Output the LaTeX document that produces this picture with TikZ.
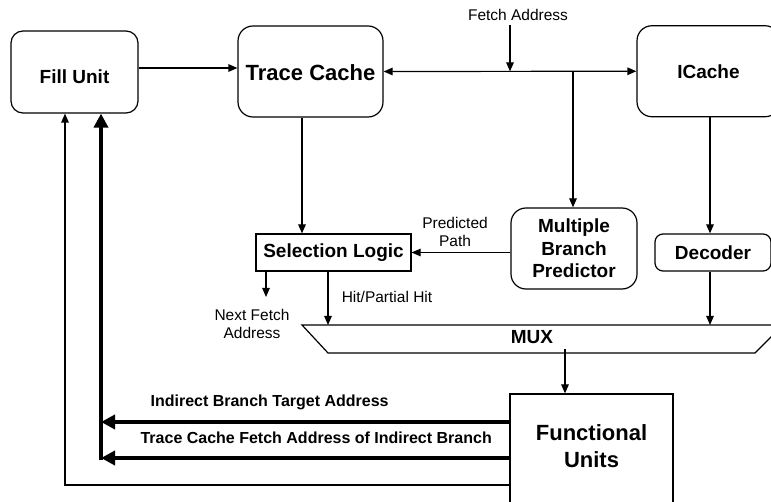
\documentclass[tikz,border=0pt]{standalone}
\usepackage{fontspec}
\setmainfont{Liberation Sans}
\usetikzlibrary{arrows.meta,calc}
\begin{document}
\begin{tikzpicture}[x=1pt,y=-1pt,
  line width=1.2pt,
  >={Triangle[length=9pt,width=7.5pt]},
  rbox/.style={draw, rounded corners=#1, align=center, inner sep=0pt,
     font=\bfseries\fontsize{19}{22.7}\selectfont},
  rbox/.default=14pt,
  sbox/.style={draw, align=center, inner sep=0pt,
     font=\bfseries\fontsize{19}{22.7}\selectfont},
  lbl/.style={font=\fontsize{15.5}{18.7}\selectfont, align=center, inner sep=0pt},
  blbl/.style={font=\bfseries\fontsize{16}{19}\selectfont, inner sep=0pt},
  fat/.style={line width=3.8pt, -{Triangle[length=14pt,width=14pt]}},
  fatline/.style={line width=3.8pt}
]
\useasboundingbox (0,0) rectangle (771,502);
\clip (0,0) rectangle (771,502);

% boxes
\node[rbox=12pt, minimum width=127pt, minimum height=82pt] (fill) at (74.5,72) {\raisebox{-5pt}[\height][\depth]{Fill Unit}};
\node[rbox=15pt, minimum width=145pt, minimum height=91pt,
      font=\bfseries\fontsize{22}{26}\selectfont] (trace) at (310.5,71.5) {\raisebox{-1.5pt}[\height][\depth]{Trace Cache}};
\node[rbox=15pt, minimum width=143pt, minimum height=91pt] (icache) at (708.5,71.25) {ICache};
\node[rbox=15pt, minimum width=126pt, minimum height=81pt] (mbp) at (574,248.5) {Multiple\\Branch\\Predictor};
\node[rbox=8pt, minimum width=116pt, minimum height=37pt] (dec) at (713,252.5) {Decoder};
\node[sbox, minimum width=155pt, minimum height=37pt] (sel) at (333.5,252.5) {Selection Logic};
\node[draw, minimum width=163pt, minimum height=136pt, inner sep=0pt] (fu) at (591.5,462) {};
\node[align=center, inner sep=0pt, font=\bfseries\fontsize{22}{27}\selectfont] (fut) at (591.5,446.5) {Functional\\Units};

% MUX
\draw (302,325) coordinate (muxtl) -- (783,325) -- (755,353) -- (328,353) -- cycle;
\node[inner sep=0pt, font=\bfseries\fontsize{19}{22}\selectfont] (mux) at (532,337) {MUX};

% labels
\node[lbl] (fa) at (518,15) {Fetch Address};
\node[lbl] (pp) at (455,232) {Predicted\\Path};
\node[lbl] (nfa) at (252,324) {Next Fetch\\Address};
\node[lbl] (hit) at (387,297) {Hit/Partial Hit};
\node[blbl, anchor=west] (ibta) at (150,402) {Indirect Branch Target Address};
\node[blbl, anchor=west] (tcfa) at (140,438) {Trace Cache Fetch Address of Indirect Branch};

% coordinates
\coordinate (fetchtop) at (510,25);
\coordinate (j1) at (510,71.4);
\coordinate (j2) at (573,71.4);
\coordinate (nf) at (266,297);
\coordinate (muxhit) at (328,325);
\coordinate (muxdec) at (710,325);
\coordinate (muxout) at (565,349);
\coordinate (fatL) at (101,460);
\coordinate (thinL) at (65,485);

% connectors
\draw[->] ([yshift=4pt]fill.east) -- ([yshift=4pt]fill.east -| trace.west);
\draw[<->] (trace.east) -- (icache.west);
\draw[->] (fetchtop) -- (j1);
\draw[->] (j2) -- (j2 |- mbp.north);
\draw[->] ([xshift=-8.5pt]trace.south) -- ([xshift=-8.5pt]trace.south |- sel.north);
\draw[->] ([xshift=1.5pt]icache.south) -- ([xshift=1.5pt]icache.south |- dec.north);
\draw[->] (mbp.west |- sel.east) -- (sel.east);
\draw[->] (sel.south -| nf) -- (nf);
\draw[->] (sel.south -| muxhit) -- (muxhit);
\draw[->] (dec.south -| muxdec) -- (muxdec);
\draw[->] (muxout) -- (muxout |- fu.north);

% thick feedback
\draw[fat] (fu.west |- 0,422) -- (101,422);
\draw[fat] (fu.west |- 0,458) -- (101,458);
\draw[fat] (fatL) -- (fatL |- fill.south);
% thin feedback
\draw[->] (fu.west |- thinL) -- (thinL) -- (thinL |- fill.south);
\end{tikzpicture}
\end{document}
